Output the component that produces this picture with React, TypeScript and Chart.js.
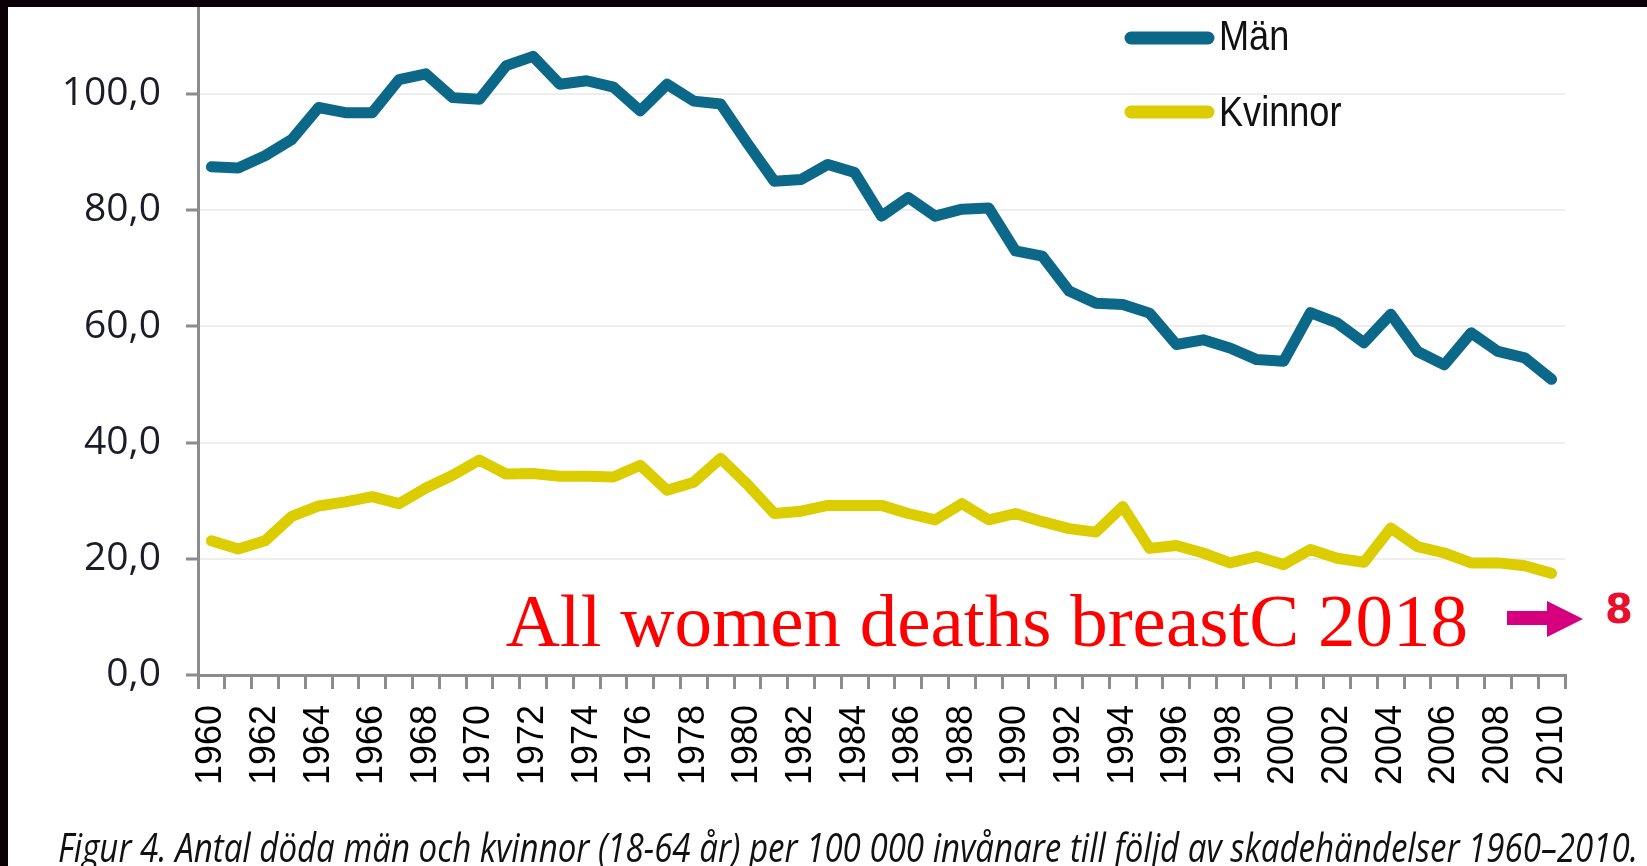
import React, { useEffect, useRef } from 'react';
import { Chart, registerables } from 'chart.js';

Chart.register(...registerables);

const years = [
  '1960', '1961', '1962', '1963', '1964', '1965', '1966', '1967', '1968', '1969',
  '1970', '1971', '1972', '1973', '1974', '1975', '1976', '1977', '1978', '1979',
  '1980', '1981', '1982', '1983', '1984', '1985', '1986', '1987', '1988', '1989',
  '1990', '1991', '1992', '1993', '1994', '1995', '1996', '1997', '1998', '1999',
  '2000', '2001', '2002', '2003', '2004', '2005', '2006', '2007', '2008', '2009', '2010',
];

const menValues = [
  87.5, 87.3, 89.4, 92.2, 97.7, 96.8, 96.8, 102.5, 103.5, 99.4,
  99.1, 104.9, 106.5, 101.7, 102.3, 101.2, 97.1, 101.7, 98.8, 98.3,
  91.5, 85.0, 85.3, 87.9, 86.5, 79.0, 82.2, 79.0, 80.2, 80.4,
  73.0, 72.1, 66.1, 64.0, 63.8, 62.3, 56.9, 57.7, 56.3, 54.3,
  54.0, 62.4, 60.6, 57.2, 62.1, 55.7, 53.4, 58.9, 55.7, 54.6, 50.9,
];

const womenValues = [
  23.1, 21.7, 23.1, 27.3, 29.1, 29.8, 30.7, 29.5, 32.2, 34.4,
  37.0, 34.6, 34.7, 34.2, 34.2, 34.1, 36.1, 31.8, 33.2, 37.3,
  32.8, 27.8, 28.2, 29.2, 29.2, 29.2, 27.8, 26.7, 29.5, 26.7,
  27.8, 26.4, 25.2, 24.6, 29.0, 21.8, 22.3, 21.0, 19.3, 20.4,
  19.0, 21.6, 20.1, 19.4, 25.3, 22.1, 21.0, 19.3, 19.3, 18.8, 17.5,
];

const yTickValues = [0, 20, 40, 60, 80, 100];
const seriesLabels = ['Män', 'Kvinnor'];
const seriesColors = ['#0b6889', '#dccd00'];
const annotationText = 'All women deaths breastC 2018';
const markText = '8';
const captionText =
  'Figur 4. Antal döda män och kvinnor (18-64 år) per 100 000 invånare till följd av skadehändelser 1960–2010.';

const W = 1647;
const H = 866;

const overlayPlugin = {
  id: 'overlay',
  beforeDraw(chart: any) {
    const ctx = chart.ctx;
    ctx.save();
    ctx.fillStyle = '#ffffff';
    ctx.fillRect(0, 0, chart.width, chart.height);
    ctx.restore();
  },
  afterDraw(chart: any) {
    const ctx = chart.ctx;
    ctx.save();

    // legend
    const legendY = [38, 112];
    const textBase = [50, 126];
    chart.data.datasets.forEach((ds: any, i: number) => {
      ctx.strokeStyle = ds.borderColor;
      ctx.lineWidth = 13;
      ctx.lineCap = 'round';
      ctx.beginPath();
      ctx.moveTo(1131, legendY[i]);
      ctx.lineTo(1208, legendY[i]);
      ctx.stroke();
      ctx.save();
      ctx.translate(1219, textBase[i]);
      ctx.scale(0.84, 1);
      ctx.fillStyle = '#111111';
      ctx.font = '43px "Liberation Sans", Arial, sans-serif';
      ctx.textAlign = 'left';
      ctx.textBaseline = 'alphabetic';
      ctx.fillText(ds.label, 0, 0);
      ctx.restore();
    });

    // red annotation
    ctx.fillStyle = '#ff0000';
    ctx.font = '75px "Liberation Serif", "Times New Roman", serif';
    ctx.textAlign = 'right';
    ctx.textBaseline = 'alphabetic';
    ctx.fillText(annotationText, 1468, 646);

    // magenta arrow
    ctx.fillStyle = '#d6007f';
    ctx.fillRect(1507, 611, 42, 14);
    ctx.beginPath();
    ctx.moveTo(1547, 601);
    ctx.lineTo(1583, 619);
    ctx.lineTo(1547, 637);
    ctx.closePath();
    ctx.fill();

    // red mark
    ctx.fillStyle = '#e8112d';
    ctx.font = 'bold 40px "DejaVu Sans", sans-serif';
    ctx.textAlign = 'center';
    ctx.fillText(markText, 1619, 623);

    // caption
    ctx.save();
    ctx.font = 'italic 40px "Open Sans", sans-serif';
    const w = ctx.measureText(captionText).width;
    ctx.translate(58, 862);
    ctx.scale(1580 / w, 1);
    ctx.fillStyle = '#111111';
    ctx.textAlign = 'left';
    ctx.fillText(captionText, 0, 0);
    ctx.restore();

    // black frame strips
    ctx.fillStyle = '#0b0006';
    ctx.fillRect(0, 0, chart.width, 7);
    ctx.fillRect(0, 0, 8, chart.height);

    ctx.restore();
  },
};

export default function App() {
  const canvasRef = useRef<HTMLCanvasElement | null>(null);

  useEffect(() => {
    const canvas = canvasRef.current;
    if (!canvas) return;
    const chart = new Chart(canvas, {
      type: 'line',
      data: {
        labels: years,
        datasets: [
          {
            label: seriesLabels[0],
            data: menValues,
            borderColor: seriesColors[0],
            backgroundColor: seriesColors[0],
            borderWidth: 11,
            pointRadius: 0,
            tension: 0,
            borderCapStyle: 'round',
            borderJoinStyle: 'round',
          },
          {
            label: seriesLabels[1],
            data: womenValues,
            borderColor: seriesColors[1],
            backgroundColor: seriesColors[1],
            borderWidth: 11,
            pointRadius: 0,
            tension: 0,
            borderCapStyle: 'round',
            borderJoinStyle: 'round',
          },
        ],
      },
      options: {
        responsive: false,
        animation: false,
        devicePixelRatio: 1,
        layout: { padding: { top: 7, right: 82, bottom: 0, left: 0 } },
        plugins: {
          legend: { display: false },
          tooltip: { enabled: false },
          title: { display: false },
        },
        scales: {
          x: {
            type: 'category',
            offset: true,
            grid: {
              offset: true,
              drawOnChartArea: false,
              drawTicks: true,
              tickLength: 14,
              color: '#8c8c8c',
              lineWidth: 3,
            },
            border: { color: '#8c8c8c', width: 3 },
            ticks: {
              autoSkip: false,
              maxRotation: 90,
              minRotation: 90,
              padding: 16,
              color: '#000000',
              font: { family: '"Liberation Sans", Arial, sans-serif', size: 36 },
              callback: (_v: any, i: number) => (i % 2 === 0 ? years[i] : ''),
            },
            afterFit: (s: any) => {
              s.height = 191;
              s.paddingLeft = 0;
              s.paddingRight = 0;
              s.paddingTop = 0;
              s.paddingBottom = 0;
            },
          },
          y: {
            min: 0,
            max: 115,
            afterBuildTicks: (s: any) => {
              s.ticks = yTickValues.map((v) => ({ value: v }));
            },
            grid: {
              color: '#eeeeee',
              lineWidth: 2,
              tickColor: '#8c8c8c',
              tickWidth: 3,
              tickLength: 12,
            },
            border: { color: '#8c8c8c', width: 3 },
            ticks: {
              padding: 25,
              color: '#1c1c28',
              font: { family: '"Open Sans", sans-serif', size: 39 },
              callback: (v: any) => Number(v).toFixed(1).replace('.', ','),
            },
            afterFit: (s: any) => {
              s.width = 198;
              s.paddingTop = 0;
              s.paddingBottom = 0;
              s.paddingLeft = 0;
              s.paddingRight = 0;
            },
          },
        },
      },
      plugins: [overlayPlugin],
    } as any);
    return () => chart.destroy();
  }, []);

  return (
    <div style={{ position: 'fixed', left: 0, top: 0, width: W, height: H, background: '#fff' }}>
      <canvas ref={canvasRef} width={W} height={H} style={{ display: 'block', width: W, height: H }} />
    </div>
  );
}
